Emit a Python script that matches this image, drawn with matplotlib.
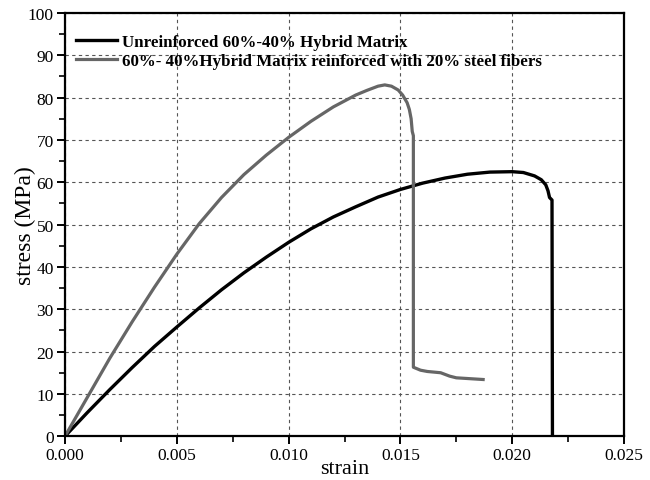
import matplotlib
matplotlib.use("Agg")
import matplotlib.pyplot as plt
from matplotlib.ticker import MultipleLocator

plt.rcParams['font.family'] = ['Liberation Serif', 'DejaVu Serif']

# Unreinforced 60%-40% hybrid matrix
strain_plain = [0.0, 0.001, 0.002, 0.003, 0.004, 0.005, 0.006, 0.007, 0.008,
                0.009, 0.010, 0.011, 0.012, 0.013, 0.014, 0.015, 0.016, 0.017,
                0.018, 0.019, 0.020, 0.0205, 0.021, 0.0213, 0.0215, 0.0216,
                0.02167, 0.02178, 0.0218]
stress_plain = [0.0, 5.6, 11.0, 16.2, 21.2, 25.8, 30.3, 34.6, 38.6,
                42.3, 45.8, 49.0, 51.8, 54.2, 56.5, 58.3, 59.8, 61.0,
                61.9, 62.4, 62.5, 62.3, 61.5, 60.6, 59.4, 58.0,
                56.4, 55.8, 0.0]

# Reinforced with 20% steel fibers
strain_fiber = [0.0, 0.001, 0.002, 0.003, 0.004, 0.005, 0.006, 0.007, 0.008,
                0.009, 0.010, 0.011, 0.012, 0.013, 0.0135, 0.014, 0.0143,
                0.0146, 0.0149, 0.0151, 0.0153, 0.0154, 0.01548, 0.01553,
                0.01558, 0.01558, 0.0159, 0.0162, 0.0168, 0.0172, 0.0175, 0.0187]
stress_fiber = [0.0, 9.2, 18.4, 27.0, 35.2, 43.0, 50.2, 56.4, 61.8,
                66.4, 70.6, 74.4, 77.8, 80.6, 81.7, 82.7, 83.0,
                82.7, 81.8, 80.6, 78.8, 77.2, 75.0, 72.0,
                71.0, 16.3, 15.6, 15.3, 15.0, 14.2, 13.8, 13.4]

labels = ["Unreinforced 60%-40% Hybrid Matrix",
          "60%- 40%Hybrid Matrix reinforced with 20% steel fibers"]

fig = plt.figure(figsize=(6.5, 4.81), dpi=100)
ax = fig.add_axes([0.1, 0.091, 0.86, 0.88])

ax.plot(strain_plain, stress_plain, color='black', lw=2.4, label=labels[0],
        solid_joinstyle='round')
ax.plot(strain_fiber, stress_fiber, color='#666666', lw=2.3, label=labels[1],
        solid_joinstyle='round')

ax.set_xlim(0, 0.025)
ax.set_ylim(0, 100)
ax.xaxis.set_major_locator(MultipleLocator(0.005))
ax.xaxis.set_minor_locator(MultipleLocator(0.0025))
ax.yaxis.set_major_locator(MultipleLocator(10))
ax.yaxis.set_minor_locator(MultipleLocator(5))
ax.set_xticklabels([f"{v:.3f}" for v in ax.get_xticks()])

ax.grid(True, which='major', linestyle=(0, (3, 3)), color='#555555', lw=0.8)
for s in ax.spines.values():
    s.set_linewidth(1.6)
ax.tick_params(which='major', direction='out', length=6, width=1.4, labelsize=12.5, pad=2)
ax.tick_params(which='minor', direction='out', length=4, width=1.2)

ax.set_xlabel("strain", fontsize=16, labelpad=-3)
ax.set_ylabel("stress (MPa)", fontsize=17, labelpad=-6)

leg = ax.legend(loc='upper left', frameon=False,
                prop={'weight': 'bold', 'size': 12.2},
                handlelength=2.43, handletextpad=0.33, labelspacing=0.2,
                borderaxespad=0.0, borderpad=0.0,
                bbox_to_anchor=(10.6 / 559, 0.951))

fig.savefig("out.png", dpi=100)
